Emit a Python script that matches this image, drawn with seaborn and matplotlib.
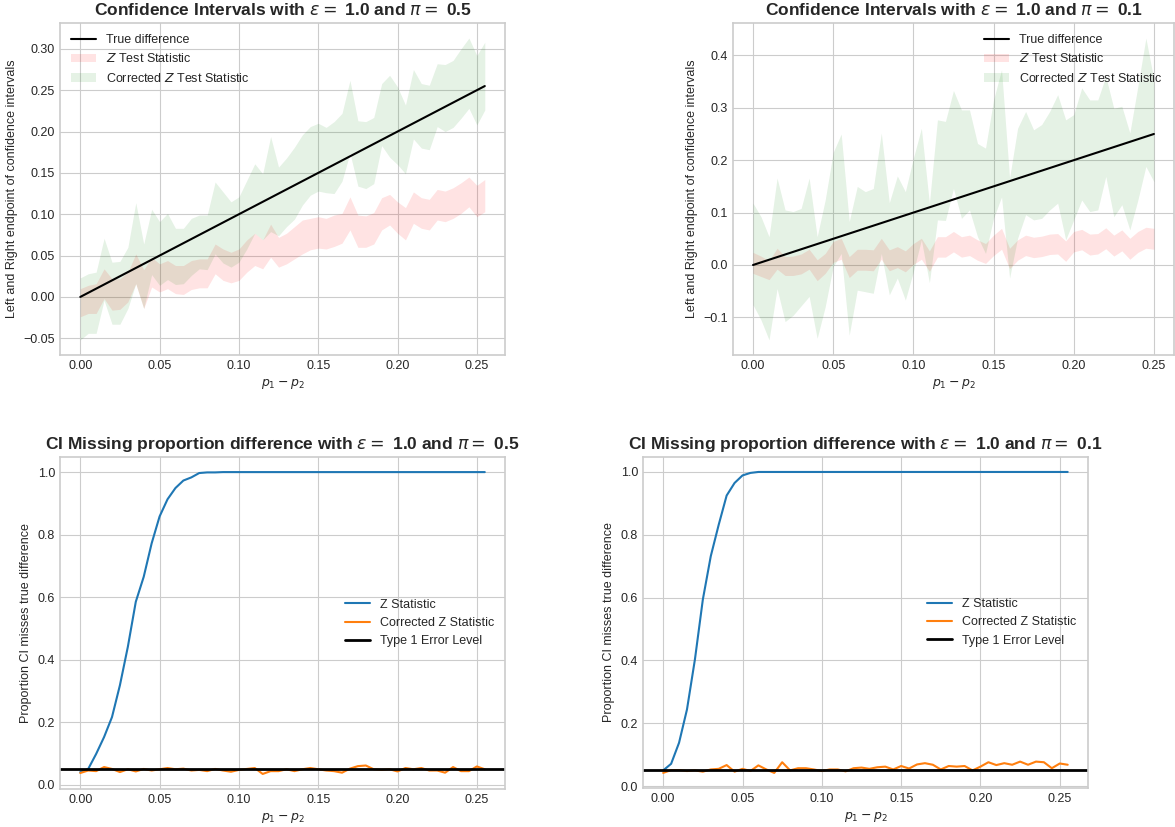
import numpy as np
import pandas as pd
import seaborn as sns
import matplotlib.pyplot as plt

# p1 - p2 grid used in the simulation
diffs_05 = [0.000, 0.005, 0.010, 0.015, 0.020, 0.025, 0.030, 0.035, 0.040, 0.045,
            0.050, 0.055, 0.060, 0.065, 0.070, 0.075, 0.080, 0.085, 0.090, 0.095,
            0.100, 0.105, 0.110, 0.115, 0.120, 0.125, 0.130, 0.135, 0.140, 0.145,
            0.150, 0.155, 0.160, 0.165, 0.170, 0.175, 0.180, 0.185, 0.190, 0.195,
            0.200, 0.205, 0.210, 0.215, 0.220, 0.225, 0.230, 0.235, 0.240, 0.245,
            0.250, 0.255]
diffs_01 = diffs_05[:51]

# pi = 0.5 : CI endpoints
z_lo_05 = [-0.024, -0.020, -0.020, -0.002, -0.016, -0.015, -0.006, 0.016, -0.014, 0.012,
           0.006, 0.010, 0.004, 0.003, 0.009, 0.011, 0.011, 0.028, 0.020, 0.017,
           0.020, 0.030, 0.038, 0.034, 0.048, 0.036, 0.040, 0.046, 0.052, 0.057,
           0.059, 0.058, 0.061, 0.065, 0.081, 0.060, 0.060, 0.064, 0.081, 0.087,
           0.077, 0.069, 0.089, 0.083, 0.081, 0.093, 0.091, 0.095, 0.101, 0.109,
           0.097, 0.103]
z_hi_05 = [0.010, 0.014, 0.016, 0.034, 0.022, 0.022, 0.030, 0.052, 0.033, 0.048,
           0.040, 0.044, 0.038, 0.038, 0.044, 0.046, 0.046, 0.064, 0.058, 0.054,
           0.058, 0.069, 0.077, 0.069, 0.088, 0.072, 0.077, 0.085, 0.093, 0.095,
           0.097, 0.095, 0.099, 0.101, 0.121, 0.099, 0.098, 0.102, 0.120, 0.124,
           0.115, 0.108, 0.127, 0.120, 0.118, 0.130, 0.128, 0.132, 0.138, 0.145,
           0.135, 0.142]
cz_lo_05 = [-0.052, -0.044, -0.044, -0.004, -0.033, -0.033, -0.014, 0.016, -0.014, 0.027,
            0.014, 0.021, 0.015, 0.016, 0.026, 0.034, 0.033, 0.052, 0.041, 0.036,
            0.042, 0.058, 0.077, 0.069, 0.079, 0.074, 0.085, 0.094, 0.111, 0.123,
            0.128, 0.126, 0.125, 0.140, 0.174, 0.134, 0.131, 0.137, 0.183, 0.169,
            0.160, 0.149, 0.191, 0.180, 0.178, 0.206, 0.200, 0.205, 0.216, 0.228,
            0.208, 0.226]
cz_hi_05 = [0.023, 0.028, 0.030, 0.071, 0.042, 0.043, 0.060, 0.114, 0.064, 0.106,
            0.091, 0.101, 0.083, 0.083, 0.095, 0.099, 0.099, 0.139, 0.127, 0.115,
            0.121, 0.141, 0.161, 0.149, 0.194, 0.157, 0.168, 0.181, 0.196, 0.206,
            0.210, 0.205, 0.212, 0.222, 0.262, 0.213, 0.212, 0.217, 0.258, 0.268,
            0.254, 0.232, 0.275, 0.258, 0.256, 0.282, 0.281, 0.286, 0.300, 0.313,
            0.292, 0.308]

# pi = 0.1 : CI endpoints
z_lo_01 = [-0.016, -0.022, -0.028, -0.008, -0.020, -0.020, -0.017, -0.008, -0.030, -0.016,
           0.005, 0.011, -0.024, -0.010, -0.010, -0.011, 0.011, -0.011, -0.005, -0.013,
           0.001, 0.011, -0.012, 0.015, 0.015, 0.025, 0.015, 0.018, 0.009, 0.003,
           0.018, 0.030, -0.007, 0.009, 0.018, 0.014, 0.016, 0.020, 0.021, 0.007,
           0.025, 0.029, 0.019, 0.021, 0.031, 0.017, 0.027, 0.011, 0.024, 0.032,
           0.030]
z_hi_01 = [0.024, 0.017, 0.008, 0.032, 0.016, 0.017, 0.021, 0.030, 0.010, 0.022,
           0.045, 0.051, 0.016, 0.030, 0.030, 0.029, 0.051, 0.029, 0.035, 0.027,
           0.041, 0.051, 0.027, 0.054, 0.054, 0.064, 0.054, 0.057, 0.048, 0.041,
           0.057, 0.070, 0.032, 0.048, 0.057, 0.053, 0.055, 0.059, 0.060, 0.046,
           0.064, 0.068, 0.059, 0.060, 0.071, 0.057, 0.067, 0.051, 0.064, 0.072,
           0.070]
cz_lo_01 = [-0.076, -0.105, -0.143, -0.045, -0.108, -0.096, -0.078, -0.060, -0.140, -0.080,
            -0.003, 0.022, -0.134, -0.048, -0.051, -0.054, 0.022, -0.057, -0.025, -0.067,
            -0.013, 0.048, -0.034, 0.086, 0.085, 0.146, 0.089, 0.105, 0.054, 0.022,
            0.089, 0.130, -0.025, 0.051, 0.096, 0.086, 0.089, 0.105, 0.118, 0.048,
            0.086, 0.124, 0.102, 0.105, 0.169, 0.092, 0.115, 0.067, 0.124, 0.188,
            0.159]
cz_hi_01 = [0.118, 0.092, 0.054, 0.166, 0.105, 0.102, 0.108, 0.166, 0.054, 0.124,
            0.215, 0.250, 0.083, 0.150, 0.140, 0.146, 0.252, 0.119, 0.170, 0.140,
            0.204, 0.261, 0.118, 0.277, 0.274, 0.333, 0.296, 0.296, 0.232, 0.223,
            0.315, 0.373, 0.166, 0.261, 0.293, 0.258, 0.268, 0.293, 0.325, 0.277,
            0.287, 0.338, 0.315, 0.315, 0.360, 0.299, 0.303, 0.252, 0.341, 0.433,
            0.354]

# proportion of CIs missing the true difference
miss_z_05 = [0.040, 0.050, 0.098, 0.152, 0.216, 0.318, 0.441, 0.585, 0.665, 0.772,
             0.858, 0.913, 0.949, 0.973, 0.983, 0.997, 0.999, 0.999, 1.0, 1.0,
             1.0, 1.0, 1.0, 1.0, 1.0, 1.0, 1.0, 1.0, 1.0, 1.0,
             1.0, 1.0, 1.0, 1.0, 1.0, 1.0, 1.0, 1.0, 1.0, 1.0,
             1.0, 1.0, 1.0, 1.0, 1.0, 1.0, 1.0, 1.0, 1.0, 1.0,
             1.0, 1.0]
miss_cz_05 = [0.037, 0.045, 0.043, 0.056, 0.050, 0.040, 0.049, 0.042, 0.050, 0.045,
              0.049, 0.053, 0.049, 0.051, 0.045, 0.047, 0.043, 0.050, 0.045, 0.041,
              0.047, 0.050, 0.053, 0.034, 0.043, 0.043, 0.049, 0.043, 0.049, 0.053,
              0.049, 0.045, 0.043, 0.038, 0.051, 0.059, 0.061, 0.049, 0.047, 0.049,
              0.042, 0.053, 0.049, 0.053, 0.045, 0.045, 0.038, 0.056, 0.043, 0.043,
              0.058, 0.049]
miss_z_01 = [0.050, 0.071, 0.138, 0.244, 0.403, 0.594, 0.732, 0.832, 0.925, 0.965,
             0.989, 0.997, 1.0, 1.0, 1.0, 1.0, 1.0, 1.0, 1.0, 1.0,
             1.0, 1.0, 1.0, 1.0, 1.0, 1.0, 1.0, 1.0, 1.0, 1.0,
             1.0, 1.0, 1.0, 1.0, 1.0, 1.0, 1.0, 1.0, 1.0, 1.0,
             1.0, 1.0, 1.0, 1.0, 1.0, 1.0, 1.0, 1.0, 1.0, 1.0,
             1.0, 1.0]
miss_cz_01 = [0.042, 0.051, 0.051, 0.048, 0.050, 0.046, 0.053, 0.055, 0.067, 0.046,
              0.055, 0.048, 0.066, 0.053, 0.042, 0.076, 0.050, 0.057, 0.057, 0.053,
              0.048, 0.053, 0.053, 0.047, 0.057, 0.059, 0.055, 0.060, 0.062, 0.053,
              0.064, 0.056, 0.069, 0.073, 0.068, 0.053, 0.064, 0.062, 0.064, 0.050,
              0.062, 0.076, 0.067, 0.073, 0.068, 0.078, 0.068, 0.078, 0.076, 0.057,
              0.072, 0.068]

type1 = 0.05
eps = 1.0
pis = [0.5, 0.1]

sns.set_style('whitegrid')
plt.rcParams['font.family'] = ['Liberation Sans', 'DejaVu Sans']
plt.rcParams['axes.edgecolor'] = '.8'
plt.rcParams['axes.linewidth'] = 1.2
plt.rcParams['xtick.labelsize'] = 9
plt.rcParams['ytick.labelsize'] = 9

fig = plt.figure(figsize=(11.75, 8.27), dpi=100)
ax_tl = fig.add_axes([0.0511, 0.5707, 0.3787, 0.4015])
ax_tr = fig.add_axes([0.6238, 0.5707, 0.3753, 0.4015])
ax_bl = fig.add_axes([0.0511, 0.0459, 0.3787, 0.4015])
ax_br = fig.add_axes([0.5472, 0.0472, 0.3787, 0.4003])


def ci_panel(ax, x, z_lo, z_hi, cz_lo, cz_hi, pi, loc):
    df = pd.DataFrame({'diff': x, 'true': x})
    sns.lineplot(data=df, x='diff', y='true', color='black', linewidth=1.5,
                 label='True difference', ax=ax)
    ax.fill_between(x, z_lo, z_hi, color='red', alpha=0.11, linewidth=0,
                    label='$Z$ Test Statistic')
    ax.fill_between(x, cz_lo, cz_hi, color='green', alpha=0.1, linewidth=0,
                    label='Corrected $Z$ Test Statistic')
    ax.set_title('Confidence Intervals with $\\epsilon =$ ' + str(eps) +
                 ' and $\\pi =$ ' + str(pi), fontsize=12.5, fontweight='bold')
    ax.set_xlabel('$p_1 - p_2$', fontsize=9)
    ax.set_ylabel('Left and Right endpoint of confidence intervals', fontsize=9)
    ax.legend(loc=loc, frameon=False, fontsize=9)
    ax.tick_params(length=0)


def miss_panel(ax, x, mz, mcz, pi):
    df = pd.DataFrame({'diff': x, 'z': mz, 'cz': mcz})
    sns.lineplot(data=df, x='diff', y='z', color='#1f77b4', linewidth=1.5,
                 label='Z Statistic', ax=ax)
    sns.lineplot(data=df, x='diff', y='cz', color='#ff7f0e', linewidth=1.5,
                 label='Corrected Z Statistic', ax=ax)
    ax.axhline(type1, color='black', linewidth=2, label='Type 1 Error Level')
    ax.set_title('CI Missing proportion difference with $\\epsilon =$ ' + str(eps) +
                 ' and $\\pi =$ ' + str(pi), fontsize=12.5, fontweight='bold')
    ax.set_xlabel('$p_1 - p_2$', fontsize=9)
    ax.set_ylabel('Proportion CI misses true difference', fontsize=9)
    ax.legend(loc='center right', frameon=False, fontsize=9)
    ax.tick_params(length=0)


ci_panel(ax_tl, diffs_05, z_lo_05, z_hi_05, cz_lo_05, cz_hi_05, pis[0], 'upper left')
ci_panel(ax_tr, diffs_01, z_lo_01, z_hi_01, cz_lo_01, cz_hi_01, pis[1], 'upper right')
miss_panel(ax_bl, diffs_05, miss_z_05, miss_cz_05, pis[0])
miss_panel(ax_br, diffs_05, miss_z_01, miss_cz_01, pis[1])

fig.savefig('out.png', dpi=100)
